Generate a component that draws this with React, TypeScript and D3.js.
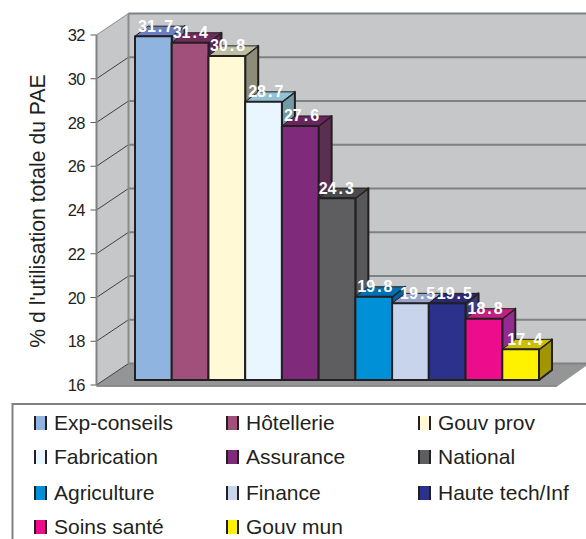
import React from "react";
import * as d3 from "d3";

const sectors = ["Exp-conseils", "Hôtellerie", "Gouv prov", "Fabrication", "Assurance", "National", "Agriculture", "Finance", "Haute tech/Inf", "Soins santé", "Gouv mun"];
const usage = [31.7, 31.4, 30.8, 28.7, 27.6, 24.3, 19.8, 19.5, 19.5, 18.8, 17.4];
const frontColors = ["#8FB4E0", "#A0507A", "#FFF9D5", "#EAF6FF", "#7F2A7A", "#5E5E60", "#0090D7", "#C8D4EC", "#2C318C", "#EC0C8C", "#FFF200"];
const topColors = ["#6C7DC0", "#6E2C5C", "#BDBDA0", "#93C3D3", "#6A2460", "#4A4A4C", "#0070B0", "#96A4CC", "#2A2A74", "#C0207F", "#CCBE00"];
const sideColors = ["#5F6FA8", "#5A2450", "#8C8C78", "#6F9AA5", "#5B2F52", "#58585A", "#005F9A", "#7E8CB0", "#3A3A78", "#952A90", "#A09600"];
const yTicks = [16, 18, 20, 22, 24, 26, 28, 30, 32];

const FONT = "'Liberation Sans', Arial, sans-serif";
const W = 586;
const H = 539;

// Projection of the 3D plot: front of the left wall, then the back wall offset from it.
const yFront = d3.scaleLinear().domain([16, 32]).range([385, 35]);
const wallDx = 32;
const wallDy = -21.5;
const frontX = 96.5;
const backX = frontX + wallDx;

// Bars sit a little inside the floor and have their own smaller depth.
const yBar = d3.scaleLinear().domain([16, 32]).range([380, 29.6]);
const xBar = d3.scaleBand<number>().domain(d3.range(usage.length)).range([135, 539]).padding(0);
const barDx = 13;
const barDy = -10;
const EDGE = "#231F20";

// Horizontal inset of each value label from its bar's left edge.
const labelInsets = [3, 1, 1.5, 3, 2, 0, 2, 8, 8, 2, 5];

const pts = (p: [number, number][]) => p.map((q) => q.join(",")).join(" ");

const legendColumns = [34, 226, 418];
const legendRows = [430, 464, 500, 534];

export default function App() {
  const base = yBar(16);
  return (
    <svg width={W} height={H} viewBox={`0 0 ${W} ${H}`} style={{ position: "absolute", left: 0, top: 0, background: "#fff", fontFamily: FONT }}>
      {/* walls and floor */}
      <polygon points={pts([[frontX, yFront(32)], [backX, yFront(32) + wallDy], [backX, yFront(16) + wallDy], [frontX, yFront(16)]])} fill="#C6C7C9" />
      <rect x={backX} y={yFront(32) + wallDy} width={W - backX} height={yFront(16) - yFront(32)} fill="#C6C7C9" />
      <polygon points={pts([[backX, yFront(16) + wallDy], [W, yFront(16) + wallDy], [W, 366], [557, 386.5], [frontX, 386.5], [frontX, yFront(16)]])} fill="#949597" />

      {/* gridlines on the back and left walls */}
      {yTicks.map((t) => (
        <g key={t}>
          <line x1={backX} x2={W} y1={yFront(t) + wallDy} y2={yFront(t) + wallDy} stroke="#808183" strokeWidth={2} />
          <line x1={frontX} x2={backX} y1={yFront(t)} y2={yFront(t) + wallDy} stroke={t === 32 ? "#8A8B8D" : "#3F4042"} strokeWidth={1} />
          <line x1={frontX - 6} x2={frontX} y1={yFront(t)} y2={yFront(t)} stroke="#58595B" strokeWidth={1} />
          <text x={85} y={yFront(t) + 6} textAnchor="end" fontSize={16.5} letterSpacing={-0.5} fill="#231F20">{t}</text>
        </g>
      ))}
      <line x1={frontX} x2={frontX} y1={yFront(32)} y2={yFront(16)} stroke="#808183" strokeWidth={2} />
      <line x1={backX} x2={backX} y1={yFront(32) + wallDy} y2={yFront(16) + wallDy} stroke="#8A8B8D" strokeWidth={2} />
      <line x1={frontX} x2={557} y1={386} y2={386} stroke="#808183" strokeWidth={1.5} />

      {/* bars, drawn left to right so each covers its neighbour's side face */}
      {usage.map((v, i) => {
        const x0 = xBar(i)!;
        const x1 = x0 + xBar.bandwidth();
        const top = yBar(v);
        return (
          <g key={sectors[i]} stroke={EDGE} strokeWidth={2} strokeLinejoin="round">
            <polygon points={pts([[x1, top], [x1 + barDx, top + barDy], [x1 + barDx, base + barDy], [x1, base]])} fill={sideColors[i]} />
            <polygon points={pts([[x0, top], [x0 + barDx, top + barDy], [x1 + barDx, top + barDy], [x1, top]])} fill={topColors[i]} strokeWidth={1} />
            <rect x={x0} y={top} width={x1 - x0} height={base - top} fill={frontColors[i]} />
          </g>
        );
      })}

      {/* value labels, with the decimal point spaced away from the digits */}
      {usage.map((v, i) => {
        const [whole, frac] = v.toFixed(1).split(".");
        return (
          <text key={sectors[i]} x={xBar(i)! + labelInsets[i]} y={yBar(v) - 4.5} fontSize={16} fontWeight="bold" fill="#fff">
            <tspan>{whole}</tspan>
            <tspan dx={2}>.</tspan>
            <tspan dx={2}>{frac}</tspan>
          </text>
        );
      })}

      <text transform="translate(45,211) rotate(-90)" textAnchor="middle" fontSize={21.2} fill="#231F20">% d l'utilisation totale du PAE</text>

      {/* legend box, open at the page edges */}
      <path d={`M${W},404 H12.5 V${H}`} fill="none" stroke="#808183" strokeWidth={2} />
      {sectors.map((s, i) => {
        const x = legendColumns[i % 3];
        const rowBase = legendRows[Math.floor(i / 3)];
        return (
          <g key={s}>
            <rect x={x} y={rowBase - 14} width={13} height={14} fill={frontColors[i]} />
            <line x1={x + 1} x2={x + 1} y1={rowBase - 14} y2={rowBase} stroke={EDGE} strokeWidth={2} />
            <line x1={x + 12} x2={x + 12} y1={rowBase - 14} y2={rowBase} stroke={EDGE} strokeWidth={2} />
            <text x={x + 20} y={rowBase} fontSize={21} fill="#231F20">{s}</text>
          </g>
        );
      })}
    </svg>
  );
}
